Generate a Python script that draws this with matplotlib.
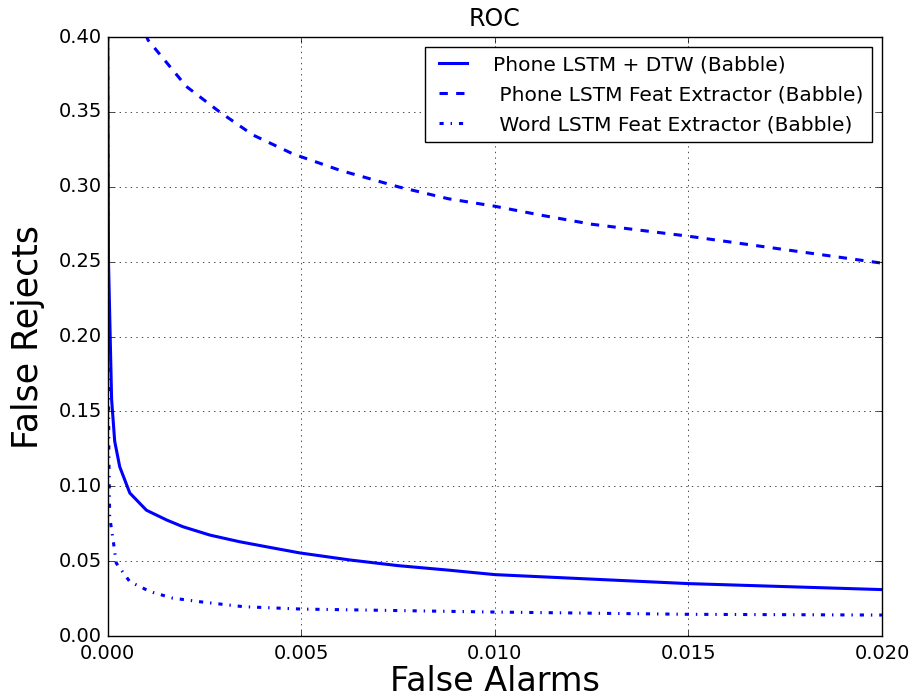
import matplotlib
matplotlib.use("Agg")
import matplotlib.pyplot as plt

plt.style.use('classic')
plt.rcParams['font.family'] = ['DejaVu Sans']

# Phone LSTM + DTW (Babble)
fa_dtw = [0.0, 0.00002, 0.0001, 0.00018, 0.00031, 0.00057, 0.001, 0.00152, 0.00194, 0.00264,
          0.0034, 0.0041, 0.00496, 0.00625, 0.0075, 0.0088, 0.010, 0.0125, 0.015, 0.0175, 0.020]
fr_dtw = [0.40, 0.25, 0.158, 0.13, 0.113, 0.0955, 0.084, 0.0775, 0.073, 0.0674,
          0.063, 0.0596, 0.0555, 0.0508, 0.047, 0.044, 0.041, 0.038, 0.035, 0.033, 0.031]

# Phone LSTM Feat Extractor (Babble)
fa_feat = [0.00098, 0.00104, 0.00203, 0.00289, 0.00375, 0.00478, 0.006, 0.0075, 0.0088,
           0.010, 0.0112, 0.0125, 0.015, 0.0175, 0.020]
fr_feat = [0.402, 0.398, 0.367, 0.350, 0.3346, 0.322, 0.311, 0.300, 0.292,
           0.287, 0.281, 0.275, 0.267, 0.258, 0.249]

# Word LSTM Feat Extractor (Babble)
fa_word = [0.0, 0.00001, 0.00003, 0.00005, 0.00014, 0.00022, 0.00057, 0.0011, 0.00168,
           0.00238, 0.0035, 0.005, 0.0075, 0.010, 0.015, 0.020]
fr_word = [0.40, 0.20, 0.12, 0.0797, 0.064, 0.0487, 0.0363, 0.0296, 0.0253,
           0.0229, 0.0196, 0.018, 0.017, 0.016, 0.0145, 0.014]

xticks = [0.0, 0.005, 0.010, 0.015, 0.020]
xticklabels = ["0.000", "0.005", "0.010", "0.015", "0.020"]
yticks = [0.0, 0.05, 0.10, 0.15, 0.20, 0.25, 0.30, 0.35, 0.40]
yticklabels = ["0.00", "0.05", "0.10", "0.15", "0.20", "0.25", "0.30", "0.35", "0.40"]

labels = ["Phone LSTM + DTW (Babble)", " Phone LSTM Feat Extractor (Babble)",
          " Word LSTM Feat Extractor (Babble)"]

fig = plt.figure(figsize=(9.13, 7.0), dpi=100, facecolor='white')
ax = fig.add_axes([0.118, 0.0914, 0.848, 0.8557])
ax.plot(fa_dtw, fr_dtw, '-', color='b', lw=2.2, label=labels[0])
ax.plot(fa_feat, fr_feat, '--', color='b', lw=2.2, label=labels[1])
ax.plot(fa_word, fr_word, '-.', color='b', lw=2.2, label=labels[2])

ax.set_xlim(0, 0.02)
ax.set_ylim(0, 0.40)
ax.set_xticks(xticks)
ax.set_xticklabels(xticklabels)
ax.set_yticks(yticks)
ax.set_yticklabels(yticklabels)
ax.tick_params(labelsize=14)
ax.tick_params(axis='x', pad=6)
ax.grid(True)
ax.set_title("ROC", fontsize=17, pad=8)
ax.set_xlabel("False Alarms", fontsize=24, labelpad=1)
ax.set_ylabel("False Rejects", fontsize=25, labelpad=10)
ax.legend(loc='upper right', fontsize=14.5, handlelength=2.0, handletextpad=1.0,
          borderaxespad=0.5, labelspacing=0.55)

fig.savefig("out.png", dpi=100, facecolor='white')
